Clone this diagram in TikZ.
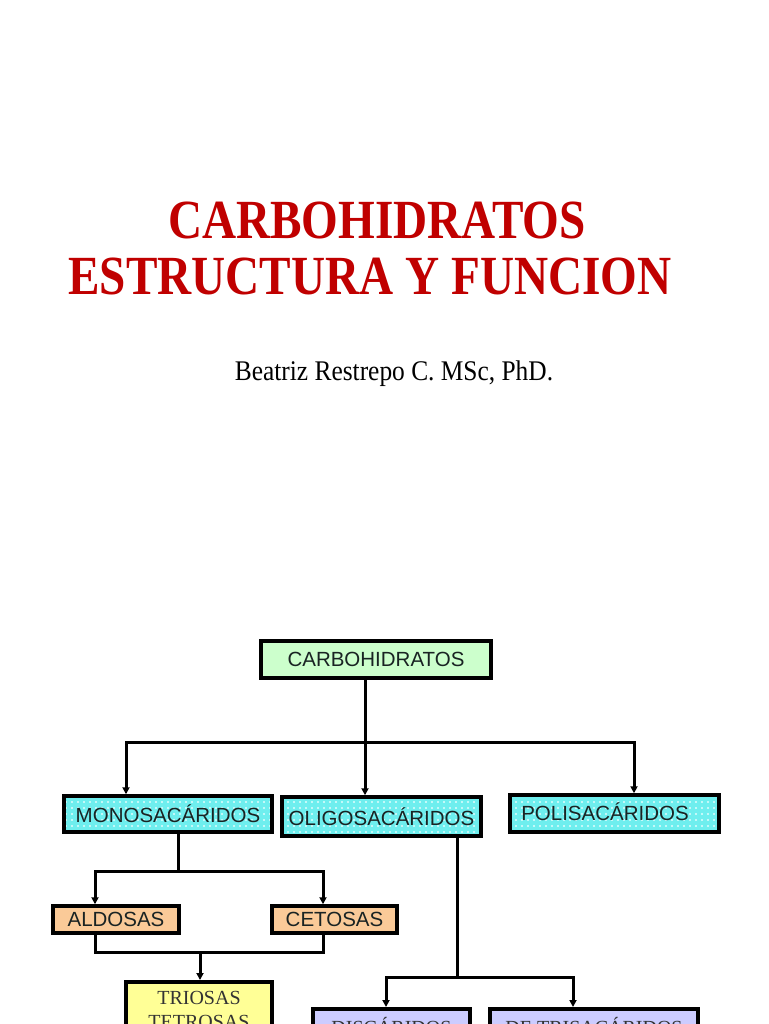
\documentclass[tikz,border=0pt]{standalone}
\usepackage{fontspec}
\setmainfont{Liberation Serif}
\newfontfamily\boxsans{Liberation Sans}
\usetikzlibrary{arrows.meta,patterns.meta}
\definecolor{titlered}{RGB}{192,0,0}
\definecolor{boxgreen}{RGB}{204,255,204}
\definecolor{boxcyan}{RGB}{110,238,238}
\definecolor{boxpeach}{RGB}{250,202,152}
\definecolor{boxyellow}{RGB}{255,255,150}
\definecolor{boxlav}{RGB}{204,204,255}
\definecolor{boxtext}{RGB}{25,35,35}
\tikzset{
  x=1pt, y=-1pt,
  box/.style={draw=black, line width=3.5pt, inner sep=0pt, text=boxtext,
    font=\boxsans\fontsize{20.5}{24}\selectfont},
  dotbox/.style={box, preaction={fill=boxcyan},
    pattern={Dots[distance=6pt, radius=1.2pt]}, pattern color=white!80!boxcyan},
  serifbox/.style={box, anchor=north, align=center, text=black!80,
    font=\fontsize{20}{24}\selectfont, inner ysep=9pt},
  conn/.style={line width=3pt, line join=miter},
  arr/.style={conn, -{Triangle[width=7pt,length=7pt]}},
}
\begin{document}
\begin{tikzpicture}
\useasboundingbox (0,0) rectangle (768,1024);
\clip (0,0) rectangle (768,1024);
\fill[white] (0,0) rectangle (768,1024);

% titles
\node[anchor=base, text=titlered, inner sep=0pt, font=\bfseries\fontsize{47.2}{56}\selectfont]
  (title1) at (377,238) {\scalebox{1}[1.17]{CARBOHIDRATOS}};
\node[anchor=base, text=titlered, inner sep=0pt, font=\bfseries\fontsize{47.2}{56}\selectfont]
  (title2) at (370,294) {\scalebox{1}[1.17]{ESTRUCTURA Y FUNCION}};
\node[anchor=base, inner sep=0pt, font=\fontsize{25.4}{30}\selectfont]
  (author) at (394,380) {\scalebox{1}[1.12]{Beatriz Restrepo C. MSc, PhD.}};

% boxes
\node[box, fill=boxgreen, minimum width=230pt, minimum height=37pt] (carbo) at (376,659.5) {CARBOHIDRATOS};
\node[dotbox, minimum width=208pt, minimum height=36pt] (mono) at (168,814) {MONOSACÁRIDOS};
\node[dotbox, minimum width=199pt, minimum height=39pt] (oligo) at (381.5,816.5) {OLIGOSACÁRIDOS};
\node[dotbox, minimum width=209pt, minimum height=37pt] (poli) at (614.5,813.5) {\hspace*{-19pt}\raisebox{4pt}{POLISACÁRIDOS}};
\node[box, fill=boxpeach, minimum width=126pt, minimum height=27pt] (aldo) at (116,919.5) {ALDOSAS};
\node[box, fill=boxpeach, minimum width=125pt, minimum height=27pt] (ceto) at (334.5,919.5) {CETOSAS};
\node[serifbox, fill=boxyellow, minimum width=146pt] (trio) at (199,980) {TRIOSAS\\TETROSAS};
\node[serifbox, fill=boxlav, minimum width=157pt] (disc) at (391.5,1007) {DISCÁRIDOS};
\node[serifbox, fill=boxlav, minimum width=208pt] (detri) at (594,1007) {DE TRISACÁRIDOS};

% junction coordinates
\coordinate (j1) at (365,742);
\coordinate (jm) at (126,742);
\coordinate (jp) at (634,742);
\coordinate (k1) at (178,871);
\coordinate (ka) at (95,871);
\coordinate (kc) at (323,871);
\coordinate (la) at (95,952);
\coordinate (lc) at (323,952);
\coordinate (lm) at (200,952);
\coordinate (o1) at (457,977);
\coordinate (od) at (386,977);
\coordinate (ot) at (573,977);

% connectors
\draw[arr] (carbo.south -| j1) -- (j1) -- (oligo.north -| j1);
\draw[arr] (j1) -- (jm) -- (mono.north -| jm);
\draw[arr] (j1) -- (jp) -- (poli.north -| jp);

\draw[conn] (mono.south -| k1) -- (k1);
\draw[arr] (k1) -- (ka) -- (aldo.north -| ka);
\draw[arr] (k1) -- (kc) -- (ceto.north -| kc);

\draw[conn] (aldo.south -| la) -- (la) -- (lc) -- (ceto.south -| lc);
\draw[arr] (lm) -- (trio.north -| lm);

\draw[conn] (oligo.south -| o1) -- (o1);
\draw[arr] (o1) -- (od) -- (disc.north -| od);
\draw[arr] (o1) -- (ot) -- (detri.north -| ot);
\end{tikzpicture}
\end{document}
